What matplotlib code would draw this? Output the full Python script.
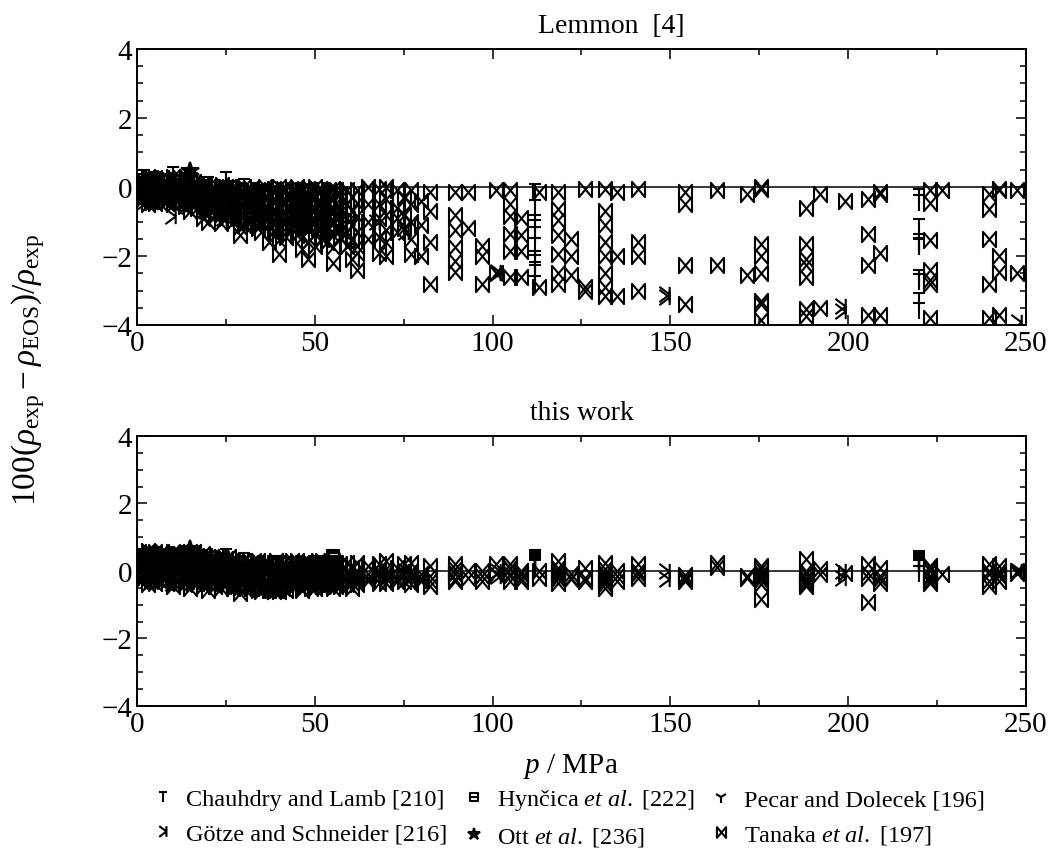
import matplotlib
matplotlib.use("Agg")
import matplotlib.pyplot as plt
from matplotlib.path import Path

plt.rcParams['font.family'] = ['Liberation Serif', 'DejaVu Serif']
plt.rcParams['mathtext.fontset'] = 'custom'
plt.rcParams['mathtext.rm'] = 'Liberation Serif'
plt.rcParams['mathtext.it'] = 'Liberation Serif:italic'
plt.rcParams['mathtext.bf'] = 'Liberation Serif:bold'

# Data: pressure columns (MPa) and deviations per column, for Lemmon EOS and this work
chauhdry_p = [2, 5, 10, 15, 20, 25, 30, 40, 50, 112, 220]
chauhdry_lemmon = [[0.25, 0.05, -0.15, -0.35], [0.2, 0.0, -0.2, -0.4], [0.35, 0.1, -0.15, -0.45],
                   [0.2, -0.1, -0.4], [0.05, -0.3, -0.6], [0.2, -0.3, -0.8], [0.0, -0.5, -1.0],
                   [-0.2, -0.7, -1.3], [-0.3, -0.9, -1.5],
                   [-0.15, -0.6, -1.05, -1.2, -1.4, -1.7, -2.1, -2.2, -2.4, -2.5, -2.8],
                   [-0.3, -0.45, -1.15, -1.6, -1.7, -1.75, -2.65, -2.75, -3.3, -3.6]]
chauhdry_this = [[0.4, 0.2, 0.0, -0.2], [0.35, 0.1, -0.1, -0.3], [0.4, 0.15, -0.1, -0.35],
                 [0.3, 0.0, -0.3], [0.25, 0.0, -0.3], [0.4, 0.1, -0.2], [0.3, 0.0, -0.3],
                 [0.2, -0.1, -0.3], [0.2, 0.0, -0.2],
                 [0.37, 0.35, 0.32, 0.3, 0.28, 0.25, 0.22, 0.2, 0.18, 0.15, 0.1],
                 [0.35, 0.32, 0.3, 0.27, 0.25, 0.22, 0.2, 0.15, 0.1, -0.1]]

gotze_p = [1, 4, 9.5, 14, 19, 24, 29, 34, 39, 45, 52, 60, 67, 75, 101, 148.5, 198, 247.5]
gotze_lemmon = [[-0.1, -0.45], [0.0, -0.3], [-0.2, -0.83], [-0.1, -0.55], [-0.3, -0.7], [-0.4, -0.9],
                [-0.5, -0.85], [-0.6, -1.1], [-0.5, -1.2], [-0.7, -1.3], [-0.8, -1.45], [-0.9, -1.6],
                [-1.0], [-1.3], [-2.5, -2.45], [-3.1, -3.2], [-3.45, -3.6], [-3.9]]
gotze_this = [[0.3, -0.1], [0.2, -0.2], [0.1, -0.35], [0.2, -0.25], [0.05, -0.3], [0.1, -0.35],
              [0.0, -0.4], [0.05, -0.3], [0.1, -0.25], [-0.1, -0.4], [0.0, -0.3], [0.1, -0.2],
              [-0.1], [0.0], [0.0, -0.15], [0.0, -0.25], [0.0, -0.2], [0.0]]

hyncica_p = [0.5, 3, 7, 12, 18, 25, 33, 46, 55]
hyncica_lemmon = [[0.2, -0.1], [0.1, -0.2], [0.15, -0.15], [0.0, -0.3], [-0.1, -0.4],
                  [0.0, -0.15, -0.3, -0.45, -0.6], [-0.3, -0.7], [-0.35, -0.55, -0.75, -0.95],
                  [-0.8, -0.95, -1.1]]
hyncica_this = [[0.4, 0.1], [0.3, 0.0], [0.35, 0.05], [0.2, -0.1], [0.15, -0.15],
                [0.1, 0.05, 0.0, -0.05, -0.1], [0.1, -0.2], [0.1, 0.0, -0.1, -0.2],
                [0.45, 0.4, 0.35]]

ott_p = [15]
ott_lemmon = [[0.45, 0.3, 0.1, -0.1, -0.3]]
ott_this = [[0.65, 0.45, 0.25, 0.05, -0.15]]

pecar_p = [0.5, 2, 4, 6, 9, 13, 18, 24, 30, 36, 40]
pecar_lemmon = [[0.1, -0.3], [-0.2, 0.15], [0.0, -0.4], [-0.3, 0.2], [0.1, -0.35], [-0.2, 0.1],
                [-0.3, -0.7], [-0.4, -0.1], [-0.6, -0.2], [-0.8, -0.3], [-1.0, -0.5]]
pecar_this = [[0.2, -0.2], [0.0, 0.4], [0.3, -0.3], [-0.1, 0.45], [0.2, -0.35], [0.0, 0.3],
              [-0.1, -0.4], [0.1, 0.35], [-0.2, 0.2], [0.0, -0.35], [-0.3, 0.1]]

tanaka_p = [1, 3, 5, 8, 10, 12, 15, 17, 20, 22, 25, 27, 29, 31, 35, 37, 40, 42, 45, 48, 50, 55, 57,
            62, 65, 68, 70, 73, 77, 80, 82.5, 89.5, 93, 97, 101, 105, 108, 113, 118.5, 122, 126,
            131.5, 135, 141, 154, 163, 171.5, 175.5, 188, 192, 199, 205.5, 209, 223, 226.5,
            239.5, 242.5, 247.5,
            2, 6.5, 13.5, 18.5, 23.5, 33, 38.5, 43.5, 46.5, 52, 53.5, 59, 60.5, 75,
            0.5, 4, 7, 9, 11, 14, 16, 19, 21, 24, 26, 28, 30, 32, 34, 36, 39, 41, 44, 47, 49,
            51, 54, 56]
tanaka_lemmon = [
    [0.2, 0.05, -0.1, -0.25, -0.4], [0.3, 0.1, -0.05, -0.2, -0.35, -0.5],
    [0.25, 0.05, -0.15, -0.3, -0.45], [0.2, 0.0, -0.2, -0.4], [0.3, 0.1, -0.1, -0.3, -0.5],
    [0.25, 0.0, -0.25, -0.45], [0.2, 0.0, -0.2, -0.45, -0.7], [0.1, -0.15, -0.4, -0.6],
    [0.0, -0.25, -0.5, -0.75, -1.0], [-0.1, -0.35, -0.6, -0.85], [0.0, -0.3, -0.6, -0.9],
    [-0.1, -0.4, -0.7, -1.0], [-0.2, -0.5, -0.85, -1.15, -1.4], [-0.1, -0.4, -0.7, -1.0],
    [-0.1, -0.4, -0.7, -1.0, -1.3], [-0.2, -0.5, -0.8, -1.1, -1.6],
    [0.0, -0.3, -0.6, -0.9, -1.2, -1.55, -1.95], [-0.1, -0.45, -0.8, -1.15, -1.45],
    [0.0, -0.35, -0.7, -1.05, -1.4], [-0.05, -0.4, -0.8, -1.2, -1.6, -2.1],
    [0.0, -0.3, -0.65, -1.0, -1.35, -1.7], [-0.05, -0.35, -0.7, -1.05, -1.4, -1.75, -2.2],
    [-0.2, -0.6, -1.0, -1.45], [-0.1, -0.45, -0.85, -1.3, -1.7, -1.9, -2.4],
    [0.0, -0.5, -1.0, -1.5], [-0.05, -0.5, -0.9, -1.45, -1.9],
    [0.0, -0.35, -0.8, -1.25, -1.6, -2.0], [-0.1, -0.6, -0.9, -1.3],
    [-0.1, -0.5, -1.0, -1.5, -1.95], [-0.4, -1.1, -2.0], [-0.15, -0.7, -1.6, -2.8],
    [-0.15, -0.8, -1.25, -1.75, -2.15, -2.45], [-0.15, -1.2], [-1.7, -2.0, -2.8], [-0.1, -2.5],
    [-0.1, -0.5, -0.85, -1.35, -1.85, -2.6], [-0.9, -1.4, -1.85, -2.6], [-0.15, -2.9],
    [-0.15, -0.65, -0.95, -1.4, -1.95, -2.5, -2.8], [-1.5, -2.0, -2.55], [-0.05, -2.9, -3.0],
    [-0.05, -0.7, -1.1, -1.6, -2.0, -2.5, -2.9, -3.15], [-0.15, -2.0, -3.15],
    [-0.05, -1.6, -2.0, -3.0], [-0.15, -0.5, -2.25, -3.4], [-0.1, -2.25], [-0.2, -2.55],
    [0.0, -0.05, -1.65, -2.0, -2.5, -3.3, -3.4, -3.85],
    [-0.6, -1.65, -2.1, -2.25, -2.6, -3.55, -3.75], [-0.2, -3.5], [-0.4],
    [-0.35, -1.35, -2.25, -3.7], [-0.15, -0.2, -1.9, -3.7],
    [-0.1, -0.45, -1.55, -2.4, -2.7, -2.8, -3.8], [-0.1],
    [-0.2, -0.65, -1.5, -2.8, -3.8], [-0.05, -0.1, -2.0, -2.45, -3.7], [-0.1, -2.5],
    [0.15, -0.05, -0.3], [0.2, -0.05, -0.25, -0.45], [0.15, -0.1, -0.35, -0.55],
    [0.05, -0.2, -0.45, -0.7, -0.9], [-0.05, -0.3, -0.55, -0.8, -1.05],
    [-0.15, -0.45, -0.75, -1.05], [-0.05, -0.35, -0.65, -0.95, -1.25],
    [-0.15, -0.5, -0.85, -1.2], [-0.1, -0.4, -0.75, -1.1, -1.45, -1.8],
    [-0.1, -0.45, -0.8, -1.15, -1.5], [-0.2, -0.55, -0.9, -1.25, -1.6],
    [-0.1, -0.5, -0.9, -1.3, -1.7], [-0.3, -0.7, -1.1, -1.5, -2.1], [-0.3, -0.8, -1.2],
    [0.25, 0.1, -0.05, -0.2, -0.35], [0.25, 0.1, -0.1, -0.25, -0.4], [0.25, 0.05, -0.15, -0.35],
    [0.2, 0.0, -0.2, -0.35], [0.2, 0.0, -0.2, -0.4], [0.25, 0.05, -0.15, -0.35],
    [0.15, -0.1, -0.3, -0.5], [0.05, -0.15, -0.35, -0.55], [0.0, -0.2, -0.45, -0.65],
    [0.05, -0.2, -0.45, -0.7], [0.0, -0.25, -0.5, -0.75], [-0.05, -0.3, -0.6, -0.9],
    [0.0, -0.25, -0.55, -0.85, -1.1], [-0.05, -0.35, -0.65, -0.95],
    [-0.1, -0.4, -0.7, -1.0, -1.2], [0.0, -0.3, -0.6, -0.9],
    [-0.1, -0.4, -0.75, -1.05, -1.35], [-0.05, -0.35, -0.7, -1.0],
    [-0.1, -0.45, -0.8, -1.1], [-0.05, -0.4, -0.75, -1.1], [-0.1, -0.45, -0.8, -1.15],
    [-0.1, -0.45, -0.8, -1.2], [-0.1, -0.45, -0.8, -1.2], [-0.1, -0.45, -0.85, -1.25]]
tanaka_this = [
    [0.5, 0.3, 0.1, -0.1, -0.3], [0.6, 0.4, 0.2, 0.0, -0.2, -0.4],
    [0.55, 0.3, 0.1, -0.15, -0.35], [0.5, 0.25, 0.0, -0.25], [0.55, 0.3, 0.05, -0.2, -0.45],
    [0.5, 0.2, -0.1, -0.35], [0.55, 0.3, 0.05, -0.2, -0.5], [0.45, 0.2, -0.1, -0.35],
    [0.4, 0.15, -0.1, -0.35, -0.55], [0.3, 0.05, -0.2, -0.45], [0.35, 0.1, -0.15, -0.4],
    [0.3, 0.05, -0.2, -0.5], [0.2, -0.05, -0.3, -0.5, -0.65], [0.25, 0.0, -0.25, -0.45],
    [0.15, -0.05, -0.25, -0.45, -0.6], [0.2, 0.0, -0.2, -0.4, -0.55],
    [0.25, 0.05, -0.15, -0.35, -0.5, -0.6, -0.3], [0.2, 0.0, -0.2, -0.4, -0.55],
    [0.3, 0.05, -0.2, -0.4, -0.25], [0.2, 0.0, -0.2, -0.4, -0.1, -0.3],
    [0.25, 0.05, -0.15, -0.35, -0.5, 0.1], [0.3, 0.1, -0.1, -0.3, -0.5, -0.2, 0.0],
    [0.2, -0.05, -0.3, -0.45], [0.25, 0.0, -0.2, -0.4, -0.15, -0.3, -0.1],
    [0.15, -0.1, -0.3, -0.2], [0.2, 0.0, -0.2, -0.35, -0.1],
    [0.3, 0.05, -0.15, -0.35, -0.2, -0.05], [0.1, -0.1, -0.3, -0.2],
    [0.25, 0.0, -0.2, -0.4, -0.15], [-0.1, -0.3, -0.2], [0.15, -0.15, -0.45, -0.3],
    [0.2, -0.05, -0.25, -0.1, -0.3, 0.05], [0.0, -0.2], [-0.3, -0.15, 0.0], [0.2, -0.1],
    [0.2, 0.05, -0.15, -0.3, -0.1, 0.1], [0.0, -0.2, -0.3, -0.1], [0.0, -0.2],
    [0.3, 0.1, -0.1, -0.37, -0.25, 0.0, -0.15], [-0.25, -0.1, -0.2], [0.1, -0.2, -0.3],
    [0.23, -0.07, -0.3, -0.5, -0.2, 0.05, -0.15, -0.4], [-0.15, -0.3, 0.0],
    [0.2, 0.0, -0.1, -0.2], [-0.13, -0.3, -0.2, -0.25], [0.23, 0.12], [-0.2, -0.15],
    [0.16, 0.05, -0.05, -0.27, -0.38, -0.83, -0.15, -0.2],
    [0.35, 0.0, -0.2, -0.4, -0.45, -0.1, -0.3], [-0.1, 0.05], [-0.05],
    [0.2, -0.05, -0.2, -0.92], [-0.14, -0.35, 0.1, -0.25],
    [0.15, -0.15, -0.35, 0.0, -0.2, -0.3, 0.1], [-0.1],
    [0.2, -0.1, -0.45, 0.0, -0.3], [0.15, -0.3, 0.0, -0.15, -0.1], [0.0, -0.05],
    [0.45, 0.15, -0.15], [0.5, 0.2, -0.05, -0.3], [0.45, 0.15, -0.15, -0.4],
    [0.5, 0.25, 0.0, -0.25, -0.45], [0.4, 0.15, -0.1, -0.3, -0.5],
    [0.3, 0.05, -0.2, -0.4], [0.25, 0.0, -0.2, -0.45, -0.6],
    [0.3, 0.05, -0.2, -0.45], [0.25, 0.0, -0.2, -0.4, -0.55, -0.3],
    [0.3, 0.05, -0.2, -0.45, -0.15], [0.2, 0.0, -0.25, -0.4, -0.1],
    [0.25, 0.0, -0.2, -0.4, -0.1], [0.1, -0.15, -0.35, -0.5, -0.2], [0.2, -0.1, -0.3],
    [0.55, 0.35, 0.15, -0.05, -0.25], [0.5, 0.3, 0.1, -0.1, -0.3], [0.55, 0.3, 0.05, -0.2],
    [0.45, 0.2, 0.0, -0.25], [0.5, 0.25, 0.0, -0.25], [0.5, 0.25, 0.0, -0.3],
    [0.55, 0.25, 0.0, -0.25], [0.45, 0.2, -0.05, -0.3], [0.4, 0.15, -0.1, -0.3],
    [0.35, 0.1, -0.15, -0.35], [0.4, 0.15, -0.1, -0.3], [0.3, 0.05, -0.2, -0.45],
    [0.3, 0.05, -0.2, -0.4, -0.5], [0.25, 0.0, -0.25, -0.5],
    [0.3, 0.05, -0.2, -0.45, -0.55], [0.2, -0.05, -0.3, -0.5],
    [0.3, 0.05, -0.2, -0.4, -0.55], [0.2, -0.05, -0.3, -0.5],
    [0.25, 0.0, -0.25, -0.45], [0.25, 0.0, -0.2, -0.45], [0.2, -0.05, -0.3, -0.5],
    [0.3, 0.05, -0.2, -0.4], [0.25, 0.0, -0.2, -0.4], [0.25, 0.0, -0.25, -0.45]]

# custom marker shapes
M, L, C = Path.MOVETO, Path.LINETO, Path.CLOSEPOLY
tee = Path([(-0.8, 1), (0.8, 1), (0, 1), (0, -1)], [M, L, M, L])
bowtie = Path([(-0.85, -1), (-0.85, 1), (0.85, -1), (0.85, 1), (-0.85, -1)], [M, L, L, L, C])
box_line = Path([(-1, -1), (1, -1), (1, 1), (-1, 1), (-1, -1), (-1, 0), (1, 0)],
                [M, L, L, L, C, M, L])
kay = Path([(0.55, 1), (0.55, -1), (-0.8, 1), (0.55, 0), (-0.8, -1), (0.55, 0)],
           [M, L, M, L, M, L])


def expand(ps, cols):
    x, y = [], []
    for p, c in zip(ps, cols):
        x += [p] * len(c)
        y += c
    return x, y


series = [
    ("Chauhdry and Lamb [210]", chauhdry_p, chauhdry_lemmon, chauhdry_this, tee, 11, 'none'),
    ("Götze and Schneider [216]", gotze_p, gotze_lemmon, gotze_this, kay, 11, 'none'),
    (r"Hynčica $\mathit{et\ al.}$ [222]", hyncica_p, hyncica_lemmon, hyncica_this, box_line, 9, 'none'),
    (r"Ott $\mathit{et\ al.}$ [236]", ott_p, ott_lemmon, ott_this, '*', 13, 'black'),
    ("Pecar and Dolecek [196]", pecar_p, pecar_lemmon, pecar_this, '1', 12, 'none'),
    (r"Tanaka $\mathit{et\ al.}$ [197]", tanaka_p, tanaka_lemmon, tanaka_this, bowtie, 11, 'none'),
]

fig = plt.figure(figsize=(10.48, 8.53), dpi=100)
ax1 = fig.add_axes([0.1307, 0.6178, 0.8483, 0.3236])
ax2 = fig.add_axes([0.1307, 0.1712, 0.8483, 0.3165])

handles = []
for label, ps, dev1, dev2, mk, ms, fc in series:
    x1, y1 = expand(ps, dev1)
    x2, y2 = expand(ps, dev2)
    h, = ax1.plot(x1, y1, ls='none', marker=mk, ms=ms, mfc=fc, mec='black',
                  mew=1.5, color='black', label=label, zorder=3)
    ax2.plot(x2, y2, ls='none', marker=mk, ms=ms, mfc=fc, mec='black',
             mew=1.5, color='black', zorder=3)
    handles.append(h)

for ax in (ax1, ax2):
    ax.axhline(0, color='black', lw=1.1, zorder=2)
    ax.set_xlim(0, 250)
    ax.set_ylim(-4, 4)
    ax.set_xticks([0, 50, 100, 150, 200, 250])
    ax.set_xticks([25, 75, 125, 175, 225], minor=True)
    ax.set_yticks([-4, -2, 0, 2, 4])
    ax.set_yticks([-3.5, -3, -2.5, -1.5, -1, -0.5, 0.5, 1, 1.5, 2.5, 3, 3.5], minor=True)
    ax.tick_params(which='both', direction='in', top=True, right=True, labelsize=21, width=1.1)
    ax.tick_params(which='major', length=7)
    ax.tick_params(which='minor', length=4)
    for s in ax.spines.values():
        s.set_linewidth(1.4)

ax1.text(0.534, 1.04, "Lemmon  [4]", transform=ax1.transAxes, ha='center', va='bottom', fontsize=20)
ax2.text(0.5, 1.04, "this work", transform=ax2.transAxes, ha='center', va='bottom', fontsize=20)

fig.text(0.545, (853 - 767) / 853, r"$p$ / MPa", ha='center', va='center', fontsize=21)
fig.text(0.027, (853 - 370) / 853, r"$100(\rho_{\rm exp}-\rho_{\rm EOS})/\rho_{\rm exp}$",
         rotation=90, ha='center', va='center', fontsize=24)

leg = fig.legend(handles, [s[0] for s in series], ncol=3, loc='center',
                 bbox_to_anchor=(0.5416, 0.0404), frameon=False, fontsize=17.5,
                 markerscale=0.7, handlelength=1.0, handletextpad=0.45,
                 columnspacing=0.6, labelspacing=0.5)

fig.savefig("out.png", dpi=100)
